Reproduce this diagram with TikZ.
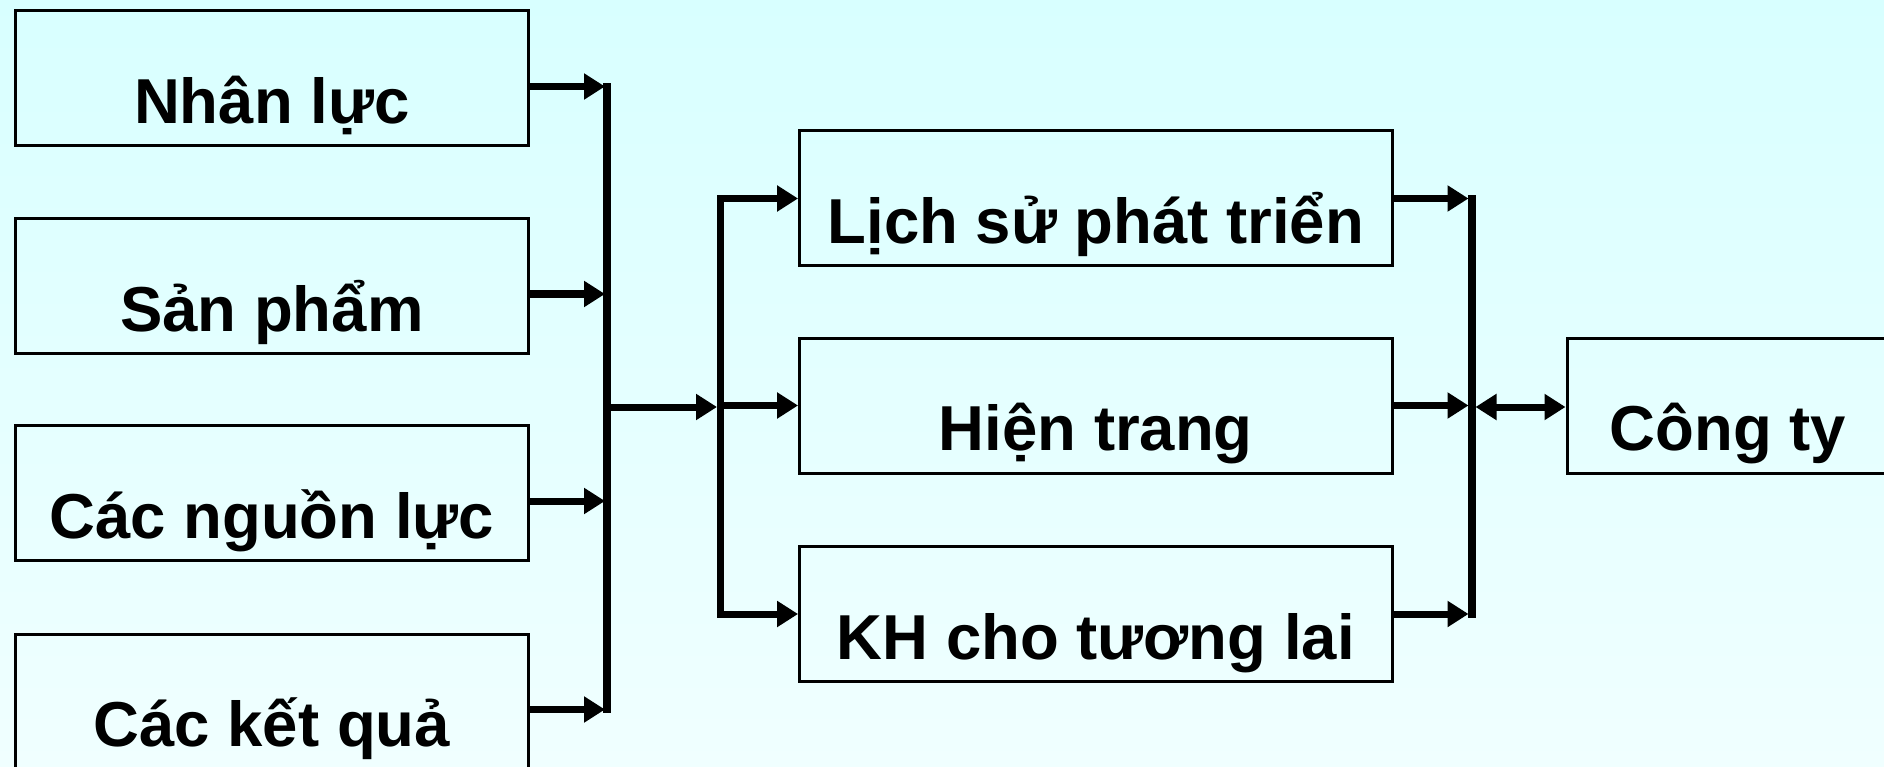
\documentclass[tikz,border=0pt]{standalone}
\usepackage{fontspec}
\setmainfont{Liberation Sans}
\usetikzlibrary{arrows.meta,calc}
\definecolor{bgtop}{RGB}{216,255,255}
\definecolor{bgbot}{RGB}{240,255,255}
\tikzset{
  box/.style={draw=black,line width=3pt,inner sep=0pt,text height=103pt,text depth=13pt,
    font=\fontsize{63.5}{70}\selectfont\bfseries,minimum height=135pt},
  lbox/.style={box,minimum width=512.5pt},
  mbox/.style={box,minimum width=592.5pt},
  arr/.style={line width=7pt,-{Triangle[length=21pt,width=25pt]}},
  darr/.style={line width=7pt,{Triangle[length=21pt,width=25pt]}-{Triangle[length=21pt,width=25pt]}},
  bar/.style={line width=7.5pt,line cap=rect}
}
\begin{document}
\begin{tikzpicture}[x=1pt,y=-1pt]
\useasboundingbox (0,0) rectangle (1884,767);
\fill[top color=bgtop,bottom color=bgbot] (0,0) rectangle (1884,767);
\clip (0,0) rectangle (1884,767);
% left boxes
\node[lbox] (n1) at (271.8,78.5) {Nhân lực};
\node[lbox] (n2) at (271.8,286) {Sản phẩm};
\node[lbox] (n3) at (271.8,493) {Các nguồn lực};
\node[lbox] (n4) at (271.8,701.5) {Các kết quả};
% middle boxes
\node[mbox] (m1) at (1095.8,198.5) {Lịch sử phát triển};
\node[mbox] (m2) at (1095.8,405.5) {Hiện trang};
\node[mbox] (m3) at (1095.8,614) {KH cho tương lai};
% right box
\node[box,minimum width=322pt] (c) at (1728,405.5) {Công ty};
% bars
\coordinate (b1t) at (607,86.5);
\coordinate (b1b) at (607,709.5);
\coordinate (b1m) at (607,407);
\coordinate (b2t) at (720.5,198.5);
\coordinate (b2b) at (720.5,614);
\coordinate (b2m) at (720.5,407);
\coordinate (b3t) at (1472,198.5);
\coordinate (b3b) at (1472,614);
\coordinate (b3m) at (1475.5,407);
% arrows left -> bar1
\foreach \n in {n1,n2,n3,n4}{
  \draw[arr,shorten >=2pt] ([yshift=-8pt]\n.east) -- ([yshift=-8pt]\n.east -| b1t);
}
\draw[bar] (b1t) -- (b1b);
% bar1 -> bar2
\draw[arr,shorten >=3.5pt] (b1m) -- (b2m);
\draw[bar] (b2t) -- (b2b);
% bar2 -> middle boxes
\foreach \n in {m1,m2,m3}{
  \draw[arr] (\n.west -| b2t) -- (\n.west);
}
% middle boxes -> bar3
\foreach \n in {m1,m2,m3}{
  \draw[arr,shorten >=3.5pt] (\n.east) -- (\n.east -| b3t);
}
\draw[bar] (b3t) -- (b3b);
% double arrow
\draw[darr] (b3m) -- (c.west |- b3m);
\end{tikzpicture}
\end{document}
